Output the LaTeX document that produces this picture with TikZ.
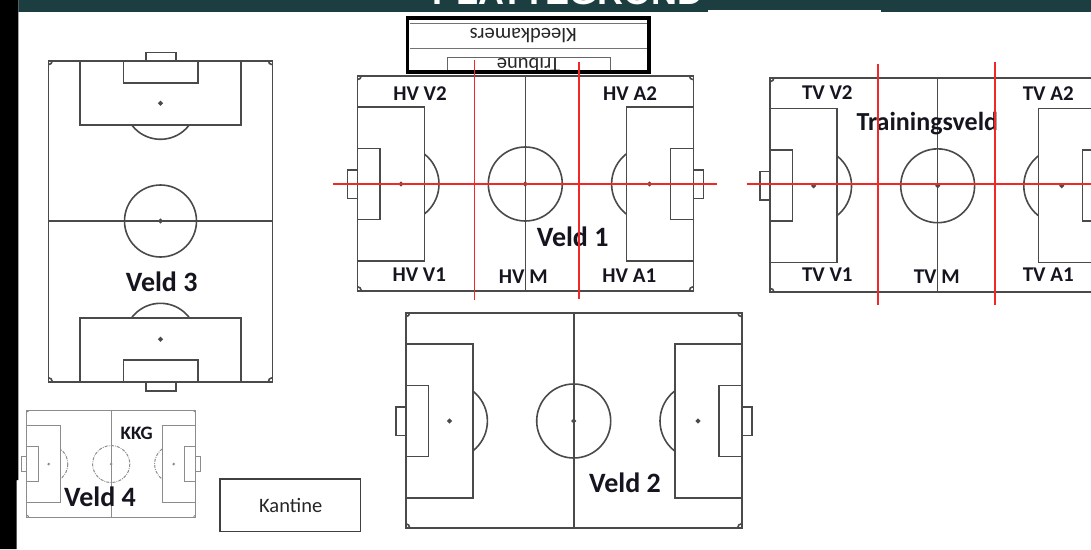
\documentclass[tikz,border=0pt]{standalone}
\usepackage{fontspec}
\newfontfamily\calfont{Carlito}
\newfontfamily\hdfont{Liberation Sans}
\definecolor{band}{HTML}{1D3E41}
\definecolor{redline}{HTML}{F02828}
\definecolor{lbltext}{HTML}{151520}
\definecolor{pitchline}{HTML}{4A4A4A}
\tikzset{
  pl/.style={draw=pitchline, line width=1.6pt},
  pl4/.style={draw=black!45, line width=1pt},
  pcircle/.style={},
  rl/.style={draw=redline, line width=1.8pt},
  lbl/.style={text=lbltext, font=\calfont\bfseries\fontsize{21}{23}\selectfont, inner sep=0pt},
  veldlbl/.style={text=lbltext, font=\calfont\bfseries\fontsize{28}{30}\selectfont, inner sep=0pt},
  plain/.style={text=black!85, font=\calfont\fontsize{20.5}{22}\selectfont, inner sep=0pt},
}
% landscape pitch: x, y, xscale, yscale, style
\newcommand{\hpitch}[5]{%
\begin{scope}[shift={(#1,#2)}, xscale=#3, yscale=#4, #5]
  \draw (0,0) rectangle (336,215);
  \draw (168,0) -- (168,215);
  \draw[pcircle] (168,108.3) circle[radius=37];
  \draw (168,108.3) circle[radius=1.5];
  % left
  \draw (0,31) rectangle (67,185.3);
  \draw (0,72.6) rectangle (22.7,143.6);
  \draw (-10,94) rectangle (0,122.6);
  \draw (43.7,108.3) circle[radius=1.5];
  % right
  \draw (336,31) rectangle (269,185.3);
  \draw (336,72.6) rectangle (313.3,143.6);
  \draw (346,94) rectangle (336,122.6);
  \draw (292.3,108.3) circle[radius=1.5];
  \begin{scope}
    \clip (67,0) rectangle (168,215);
    \draw[pcircle] (43.7,108.3) circle[radius=38];
  \end{scope}
  \begin{scope}
    \clip (168,0) rectangle (269,215);
    \draw[pcircle] (292.3,108.3) circle[radius=38];
  \end{scope}
  \begin{scope}
    \clip (0,0) rectangle (336,215);
    \foreach \p in {(0,0),(336,0),(0,215),(336,215)} \draw \p circle[radius=4];
  \end{scope}
\end{scope}}
\begin{document}
\begin{tikzpicture}[x=1pt,y=-1pt]
\useasboundingbox (0,0) rectangle (1091,549);
\fill[white] (0,0) rectangle (1091,549);
% left black strip
\fill[black] (0,0) rectangle (18.3,480) (0,480) rectangle (16.7,549);
% header band
\begin{scope}
  \clip (18.3,0) rectangle (1091,11.5);
  \fill[band] (18.3,0) rectangle (1091,11.5);
  \node[text=white, font=\hdfont\bfseries\fontsize{36}{38}\selectfont, anchor=base, inner sep=0pt] (title) at (568,4) {PLATTEGROND};
\end{scope}
\fill[white] (708,9.8) rectangle (881,12);

% Veld 3 (portrait)
\begin{scope}[pl]
  \draw (48.3,60.7) rectangle (272.3,381.7);
  \draw (48.3,221) -- (272.3,221);
  \draw (160.5,221) circle[radius=36];
  \draw (160.5,221) circle[radius=1.5];
  \draw (80,60.7) rectangle (241.2,125);
  \draw (123.3,60.7) rectangle (197.7,82.7);
  \draw (145.7,52.3) rectangle (176,60.7);
  \draw (160.5,103.3) circle[radius=1.5];
  \draw (80,317.7) rectangle (241.2,381.7);
  \draw (123.3,360) rectangle (197.7,381.7);
  \draw (145.7,381.7) rectangle (176,391);
  \draw (160.5,339.3) circle[radius=1.5];
  \begin{scope}
    \clip (48.3,125) rectangle (272.3,221);
    \draw (160.5,103.3) circle[radius=36];
  \end{scope}
  \begin{scope}
    \clip (48.3,221) rectangle (272.3,317.7);
    \draw (160.5,339.3) circle[radius=36];
  \end{scope}
  \begin{scope}
    \clip (48.3,60.7) rectangle (272.3,381.7);
    \foreach \p in {(48.3,60.7),(272.3,60.7),(48.3,381.7),(272.3,381.7)} \draw \p circle[radius=4];
  \end{scope}
\end{scope}

% Veld 1, Veld 2, Trainingsveld, Veld 4
\hpitch{357.3}{75.7}{1}{1}{pl}
\hpitch{405.7}{312.7}{1}{1}{pl}
\hpitch{770}{77.7}{0.998}{0.998}{pl}
\hpitch{26.7}{410}{0.503}{0.499}{pl4, pcircle/.style={dash pattern=on 3pt off 1.2pt on 0.8pt off 1.2pt}}

% Kleedkamers / Tribune block
\draw[black!55, line width=0.8pt] (410,23.3) -- (647,23.3);
\draw[black!55, line width=0.8pt] (410,48.3) -- (647,48.3);
\draw[black!60, line width=1pt] (447,57.7) rectangle (610,74);
\node[plain, rotate=180] (kleed) at (523.3,35.5) {Kleedkamers};
\node[plain, rotate=180] (trib) at (528.5,66) {Tribune};
\fill[white] (405,74) rectangle (652,75);
\draw[black, line width=3.8pt] (407.5,18.3) rectangle (648.8,71.8);

% Kantine
\draw[black!75, line width=1.3pt] (220,479) rectangle (360.7,531.7);
\node[plain] (kantine) at (290.7,505) {Kantine};

% labels
\node[veldlbl] (v3) at (161.7,281.7) {Veld 3};
\node[veldlbl] (v1) at (572.7,236.7) {Veld 1};
\node[veldlbl] (v2) at (625,482.7) {Veld 2};
\node[veldlbl] (v4) at (100,496.7) {Veld 4};
\node[lbl] (hvv2) at (420,93.3) {HV V2};
\node[lbl] (hva2) at (630,93.3) {HV A2};
\node[lbl] (hvv1) at (419.3,275) {HV V1};
\node[lbl] (hvm) at (523.3,276.7) {HV M};
\node[lbl] (hva1) at (629.3,276) {HV A1};
\node[lbl] (tvv2) at (827.3,92.7) {TV V2};
\node[lbl] (tva2) at (1048.3,94) {TV A2};
\node[lbl] (tvv1) at (827.3,274.3) {TV V1};
\node[lbl] (tvm) at (936.7,276.7) {TV M};
\node[lbl] (tva1) at (1048.3,275) {TV A1};
\node[lbl, font=\calfont\bfseries\fontsize{26}{28}\selectfont] (train) at (927.3,123.3) {Trainingsveld};
\node[lbl, font=\calfont\bfseries\fontsize{19}{21}\selectfont] (kkg) at (136.7,433.3) {KKG};

% red lines (drawn last)
\draw[rl] (333.3,184) -- (716.7,184);
\draw[rl] (474.5,59.5) -- (474.5,300);
\draw[rl] (579,61.7) -- (579,299);
\draw[rl] (746.7,184) -- (1091,184);
\draw[rl] (878,64.3) -- (878,305);
\draw[rl] (995,62.3) -- (995,305);
\end{tikzpicture}
\end{document}
